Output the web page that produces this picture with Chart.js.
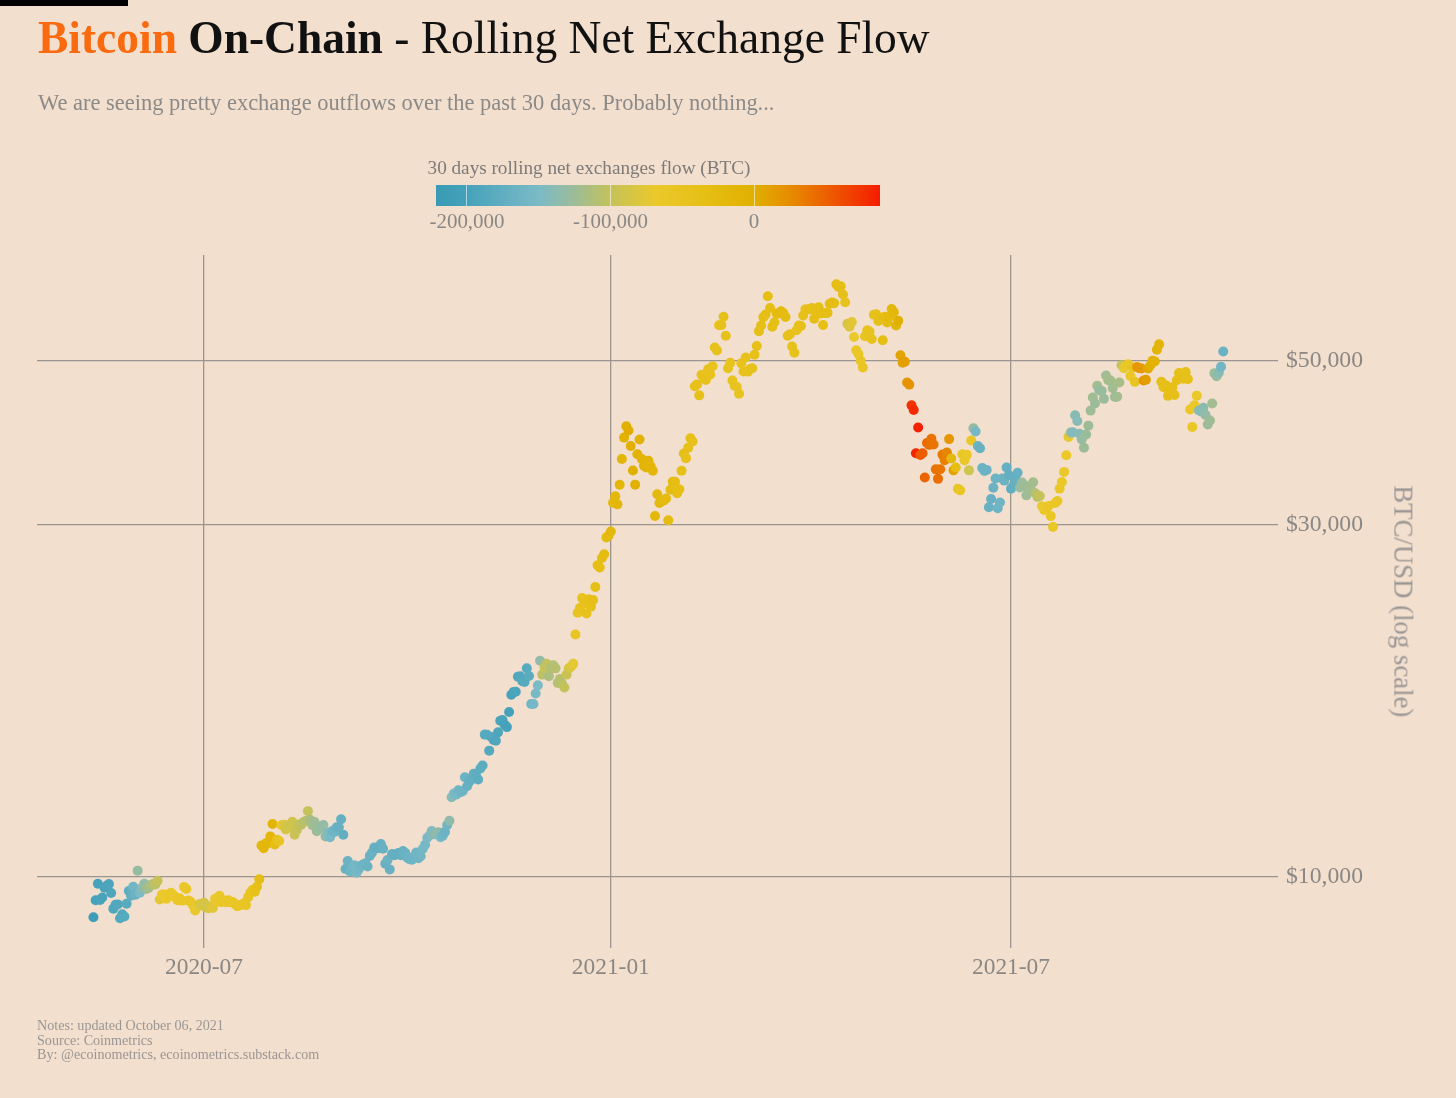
<!DOCTYPE html>
<html>
<head>
<meta charset="utf-8">
<script src="https://cdn.jsdelivr.net/npm/chart.js@4.4.1/dist/chart.umd.min.js"></script>
<style>
html,body{margin:0;padding:0;background:#f2dfce;}
body{width:1456px;height:1098px;position:relative;overflow:hidden;font-family:"Liberation Serif",serif;}
#chart{position:absolute;left:0;top:0;}
.t{position:absolute;white-space:nowrap;margin:0;z-index:2;}
#topbar{position:absolute;left:0;top:0;width:128px;height:6px;background:#000;}
#title .b1{color:#fa6a0e;font-weight:bold;}
#title .b2{color:#111;font-weight:bold;}
#title .r{color:#111;font-weight:normal;}
#subtitle{color:#8c8a88;}
#cbtitle{color:#7d7a78;}
.cblab{color:#8a8785;}
.foot{color:#9a9694;}
#ytitle{color:#9a9694;transform-origin:50% 50%;transform:rotate(90deg);}
#cbar{position:absolute;left:436px;top:185px;width:444px;height:21px;z-index:2;}
.cbtick{position:absolute;top:0;width:1px;height:21px;background:rgba(255,255,255,0.55);}
</style>
</head>
<body>
<div id="topbar"></div>
<div id="title" class="t"><span class="b1">Bitcoin</span><span class="b2"> On-Chain</span><span class="r"> - Rolling Net Exchange Flow</span></div>
<div id="subtitle" class="t">We are seeing pretty exchange outflows over the past 30 days. Probably nothing...</div>
<div id="cbtitle" class="t">30 days rolling net exchanges flow (BTC)</div>
<div id="cbar"></div>
<div id="ytitle" class="t">BTC/USD (log scale)</div>
<div id="foot1" class="t foot">Notes: updated October 06, 2021</div>
<div id="foot2" class="t foot">Source: Coinmetrics</div>
<div id="foot3" class="t foot">By: @ecoinometrics, ecoinometrics.substack.com</div>
<canvas id="chart" width="1456" height="1098"></canvas>
<script>
// ---------------- DATA ----------------
// Daily observations, first date below, one value per consecutive day.
const firstDate = '2020-05-12';

// BTC/USD daily price (USD)
const priceUSD = [
// 2020-05 (12..31)
8820,9300,9790,9310,9380,9670,9730,9780,9510,9060,9170,9180,8790,8900,8840,9200,9570,9430,9700,9460,
// 2020-06
10200,9520,9670,9790,9630,9670,9750,9780,9770,9880,9320,9470,9470,9340,9430,9520,9460,9390,9300,9360,9290,9690,9630,9290,9250,9160,9010,9120,9190,9140,
// 2020-07
9230,9090,9070,9130,9080,9340,9250,9430,9240,9290,9240,9300,9240,9250,9200,9130,9150,9170,9210,9160,9390,9530,9610,9550,9700,9930,11030,10940,11110,11110,11350,
// 2020-08
11800,11070,11230,11190,11750,11770,11600,11750,11680,11880,11410,11580,11780,11770,11870,11910,12280,11950,11750,11870,11530,11680,11650,11760,11350,11470,11320,11540,11510,11680,11680,
// 2020-09
11970,11410,10250,10510,10170,10280,10370,10130,10240,10360,10400,10440,10330,10680,10790,10960,10950,10940,11080,10920,10420,10540,10240,10740,10700,10730,10780,10700,10840,10780,
// 2020-10
10620,10570,10550,10670,10790,10600,10670,10920,11060,11300,11380,11540,11430,11430,11500,11320,11370,11510,11760,11920,12820,12970,12930,13110,13030,13070,13650,13270,13460,13560,13800,
// 2020-11
13740,13550,14030,14160,15590,15580,14830,15480,15330,15300,15700,16280,16320,16070,15960,16730,17650,17800,17820,18680,18700,18420,18370,19170,18720,17150,17150,17720,18180,19630,
// 2020-12
18800,19200,19450,18700,19150,19360,19170,18320,18550,18260,18060,18800,19170,19270,19440,21310,22800,23140,23870,23480,22750,23780,23240,23730,24710,26440,26250,27040,27370,28840,29000,
// 2021-01
29370,32130,32780,31970,33990,36820,39370,40800,40250,38350,35540,34000,37390,39150,36830,36070,35870,36630,36010,35510,30830,33000,32100,32280,32370,32570,30430,33470,34320,34300,33110,
// 2021-02
33520,35510,37470,36930,38140,39290,38900,46200,46480,44920,47910,47500,47110,48720,47940,49200,52150,51680,55890,55920,57410,54090,48890,49710,47060,46280,46110,45140,
// 2021-03
49630,48380,50540,48370,48760,48880,50970,52380,54880,55860,57330,57800,61180,59000,55640,56430,58000,57990,58370,58080,57350,54090,54340,52300,51300,55030,55840,55780,57630,58730,58740,
// 2021-04
58720,58970,57060,58210,59130,57990,55950,58090,58090,59770,60000,59860,63500,62970,63110,61530,60050,56150,55630,56470,53900,51700,51090,50050,49000,54020,55030,54820,53560,57750,
// 2021-05
57830,56630,57200,53330,57420,56400,57360,58800,58230,55860,56700,50900,49720,49880,46760,46450,43540,42910,37500,40630,37300,37500,34770,38710,38490,39240,38530,35660,34620,35680,37340,
// 2021-06
36690,37580,39190,36880,35550,35860,33560,33400,37390,36680,37310,35550,39020,40530,40140,38350,38090,35820,35480,35600,31680,32510,33680,34660,31590,32160,34650,34430,35870,35040,
// 2021-07
33570,33890,34670,35290,33690,34220,33860,32880,33820,33520,34260,33090,32730,32820,31780,31420,31530,31800,30820,29800,32110,32310,33580,34290,35380,37270,39460,40000,40020,42210,41460,
// 2021-08
39850,39150,38150,39750,40870,42830,44610,43790,46290,45600,45570,44430,47790,47100,47050,45940,44690,44740,46760,49340,48870,49280,49510,47710,48990,46850,49070,48900,48830,47050,47170,
// 2021-09
48850,49290,50030,49940,51770,52660,46860,46080,46370,44850,45160,46060,44960,47090,48160,47780,47310,48300,47250,42990,40690,43560,44880,42840,42710,43210,42240,41030,41520,43790,
// 2021-10 (1..5)
48140,47670,48200,49110,51510
];

// 30 days rolling net exchange flow, thousands of BTC
const netFlowKBTC = [
// 2020-05 (12..31)
-212,-200,-198,-197,-196,-195,-194,-193,-192,-190,-190,-188,-186,-185,-184,-182,-176,-172,-158,-165,
// 2020-06
-130,-150,-138,-132,-125,-120,-115,-110,-105,-98,-75,-70,-68,-68,-66,-65,-65,-64,-63,-62,-62,-62,-60,-60,-62,-64,-66,-72,-80,-84,
// 2020-07
-86,-88,-86,-82,-76,-70,-66,-64,-63,-62,-62,-61,-60,-60,-60,-59,-58,-58,-57,-56,-55,-52,-50,-45,-40,-32,-22,-18,-15,-14,-15,
// 2020-08
-10,-30,-45,-55,-70,-80,-85,-88,-90,-92,-95,-98,-100,-103,-105,-108,-100,-115,-120,-124,-126,-128,-130,-132,-138,-145,-152,-158,-162,-165,-168,
// 2020-09
-170,-172,-168,-165,-160,-158,-156,-155,-157,-160,-162,-163,-165,-166,-168,-170,-171,-172,-170,-168,-166,-165,-168,-170,-172,-173,-172,-170,-168,-166,
// 2020-10
-165,-164,-163,-162,-160,-160,-158,-156,-155,-152,-148,-145,-140,-136,-134,-150,-160,-165,-162,-135,-142,-150,-155,-158,-160,-162,-165,-168,-170,-172,-174,
// 2020-11
-176,-178,-178,-180,-182,-184,-185,-186,-188,-190,-192,-194,-196,-198,-200,-200,-198,-196,-194,-190,-188,-186,-184,-182,-180,-160,-155,-152,-150,-132,
// 2020-12
-105,-100,-102,-115,-112,-110,-108,-110,-108,-105,-100,-95,-90,-80,-72,-55,-50,-48,-46,-45,-44,-42,-40,-38,-36,-34,-32,-30,-28,-26,-25,
// 2021-01
-22,-20,-18,-16,-14,-12,-5,0,2,0,-3,-5,-6,-8,-10,-10,-12,-12,-14,-15,-18,-20,-22,-24,-25,-26,-28,-28,-30,-30,-32,
// 2021-02
-34,-36,-38,-40,-40,-42,-42,-40,-40,-42,-44,-44,-45,-45,-46,-46,-44,-44,-42,-40,-40,-42,-44,-46,-48,-48,-50,-50,
// 2021-03
-48,-46,-45,-45,-44,-44,-42,-40,-38,-36,-35,-35,-34,-34,-35,-36,-26,-25,-24,-25,-28,-40,-42,-44,-44,-44,-42,-42,-40,-40,-40,
// 2021-04
-38,-36,-35,-34,-34,-33,-32,-32,-32,-31,-30,-30,-30,-32,-34,-38,-45,-88,-80,-75,-70,-62,-60,-58,-56,-50,-48,-46,-44,-42,
// 2021-05
-40,-38,-36,-34,-30,-28,-25,-22,-18,-12,-3,8,10,12,18,20,75,80,82,85,55,52,48,45,42,40,38,40,42,38,35,
// 2021-06
32,28,18,-20,10,-30,-55,-58,-60,-62,-64,-92,-62,-130,-155,-165,-168,-165,-163,-165,-168,-168,-165,-163,-162,-160,-162,-165,-170,-172,
// 2021-07
-175,-172,-170,-168,-128,-126,-125,-124,-123,-122,-120,-108,-105,-100,-70,-66,-64,-62,-62,-60,-60,-62,-62,-64,-66,-68,-72,-128,-145,-140,-142,
// 2021-08
-140,-130,-125,-126,-125,-124,-123,-125,-122,-132,-128,-126,-122,-120,-120,-122,-124,-122,-118,-100,-72,-68,-62,-60,-55,-50,15,18,16,20,12,
// 2021-09
5,-2,-5,-8,-10,-12,-35,-36,-38,-38,-36,-36,-38,-36,-34,-36,-38,-40,-42,-62,-60,-64,-66,-140,-142,-138,-132,-125,-124,-122,
// 2021-10 (1..5)
-125,-130,-140,-158,-165
];

// Axis ticks
const xTickDates  = ['2020-07-01','2021-01-01','2021-07-01'];
const xTickLabels = ['2020-07','2021-01','2021-07'];
const yTickValues = [10000, 30000, 50000];
const yTickLabels = ['$10,000','$30,000','$50,000'];
// Colour bar
const cbTickValuesK = [-200, -100, 0];
const cbTickLabels  = ['-200,000','-100,000','0'];
const cbRangeK = [-221.6, 87.8];
const colorStops = [
  [-221.6,'#3a9ab4'],[-200,'#45a2ba'],[-150,'#7bbac7'],[-125,'#9cbc98'],[-100,'#c4c25a'],
  [-68,'#ebc92b'],[-35,'#e6bf16'],[0,'#e1b000'],[25,'#e68c00'],[50,'#ec6000'],[87.8,'#f51c00']
];

// ---------------- HELPERS ----------------
const DAY = 86400000;
const dayOf = s => Date.parse(s + 'T00:00:00Z') / DAY;
function hexToRgb(h){ return [parseInt(h.slice(1,3),16),parseInt(h.slice(3,5),16),parseInt(h.slice(5,7),16)]; }
function flowColor(v){
  if (v <= colorStops[0][0]) return colorStops[0][1];
  for (let i=1;i<colorStops.length;i++){
    if (v <= colorStops[i][0]){
      const [v0,c0]=colorStops[i-1],[v1,c1]=colorStops[i];
      const t=(v-v0)/(v1-v0), a=hexToRgb(c0), b=hexToRgb(c1);
      return 'rgb('+a.map((x,k)=>Math.round(x+(b[k]-x)*t)).join(',')+')';
    }
  }
  return colorStops[colorStops.length-1][1];
}

const FAMILY = '"Liberation Serif"';
const mctx = document.createElement('canvas').getContext('2d');
function widthAt(parts, size){
  let w=0;
  for (const [txt,weight] of parts){ mctx.font = weight+' '+size+'px '+FAMILY; w += mctx.measureText(txt).width; }
  return w;
}
function fitSize(parts, target){ return 100*target/widthAt(parts,100); }
function baselineOffset(size){
  mctx.font = 'normal '+size+'px '+FAMILY;
  const m = mctx.measureText('Hg');
  const a = m.fontBoundingBoxAscent, d = m.fontBoundingBoxDescent;
  return (size-(a+d))/2 + a;
}
function place(el, parts, size, x, baseline, align){
  el.style.fontFamily = FAMILY;
  el.style.fontSize = size+'px';
  el.style.lineHeight = size+'px';
  el.style.top = (baseline - baselineOffset(size))+'px';
  const w = widthAt(parts,size);
  el.style.left = (align==='center' ? x-w/2 : x)+'px';
  return w;
}

// ---------------- TEXT LAYOUT ----------------
const titleParts = [['Bitcoin','bold'],[' On-Chain','bold'],[' - Rolling Net Exchange Flow','normal']];
place(document.getElementById('title'), titleParts, fitSize(titleParts, 892), 38, 53, 'left');

const subParts = [[document.getElementById('subtitle').textContent,'normal']];
place(document.getElementById('subtitle'), subParts, fitSize(subParts, 737), 38, 111, 'left');

const cbtParts = [[document.getElementById('cbtitle').textContent,'normal']];
place(document.getElementById('cbtitle'), cbtParts, fitSize(cbtParts, 323), 589, 174, 'center');

const footIds = ['foot1','foot2','foot3'], footBase = [1030.5, 1044.8, 1059];
const footSize = fitSize([[document.getElementById('foot1').textContent,'normal']], 187);
footIds.forEach((id,i)=>{ const el=document.getElementById(id); place(el, [[el.textContent,'normal']], footSize, 37, footBase[i], 'left'); });

// vertical axis title (rotated 90deg clockwise, baseline on the left)
(function(){
  const el = document.getElementById('ytitle');
  const parts = [[el.textContent,'normal']];
  const size = fitSize(parts, 232);
  const w = widthAt(parts,size);
  el.style.fontFamily = FAMILY; el.style.fontSize = size+'px'; el.style.lineHeight = size+'px';
  const b = baselineOffset(size);
  const cx = 1394 + b - size/2, cy = 601;
  el.style.left = (cx - w/2)+'px';
  el.style.top = (cy - size/2)+'px';
})();

// colour bar
(function(){
  const bar = document.getElementById('cbar');
  const span = cbRangeK[1]-cbRangeK[0];
  const stops = colorStops.map(([v,c])=> c+' '+((v-cbRangeK[0])/span*100).toFixed(2)+'%').join(',');
  bar.style.background = 'linear-gradient(to right,'+stops+')';
  const barLeft = 436, barW = 444;
  const labSize = fitSize([[cbTickLabels[0],'normal']], 75);
  cbTickValuesK.forEach((v,i)=>{
    const px = (v-cbRangeK[0])/span*barW;
    const tk = document.createElement('div'); tk.className='cbtick'; tk.style.left=(px-0.5)+'px'; bar.appendChild(tk);
    const lab = document.createElement('div'); lab.className='t cblab'; lab.textContent=cbTickLabels[i];
    document.body.appendChild(lab);
    place(lab, [[cbTickLabels[i],'normal']], labSize, barLeft+px, 228, 'center');
  });
})();

// ---------------- CHART ----------------
const start = dayOf(firstDate);
const points = priceUSD.map((p,i)=>({x:start+i, y:p}));
const colors = netFlowKBTC.map(flowColor);

const xTickVals = xTickDates.map(dayOf);
const pxPerDay = (1011-204)/365;
const xMin = dayOf('2020-07-01') - (204-37)/pxPerDay;
const xMax = dayOf('2021-07-01') + (1278-1011)/pxPerDay;

const xFont = fitSize([[xTickLabels[0],'normal']], 78);
const yFont = fitSize([[yTickLabels[2],'normal']], 77);
const gridColor = '#9b9591';
const tickColor = '#8a8785';

new Chart(document.getElementById('chart'), {
  type: 'scatter',
  data: { datasets: [{
    data: points,
    pointRadius: 5,
    pointHoverRadius: 5,
    pointBorderWidth: 0,
    pointBackgroundColor: colors,
    borderColor: 'rgba(0,0,0,0)',
    showLine: false
  }]},
  options: {
    responsive: false,
    animation: false,
    events: [],
    layout: { padding: { left: 37, top: 255, right: 0, bottom: 110 } },
    plugins: { legend: { display: false }, tooltip: { enabled: false } },
    scales: {
      x: {
        type: 'linear', position: 'bottom', min: xMin, max: xMax, bounds: 'data',
        grid: { color: gridColor, lineWidth: 1.3, drawTicks: false },
        border: { display: false },
        ticks: { padding: 6, autoSkip: false, maxRotation: 0, color: tickColor,
                 font: { family: FAMILY, size: xFont },
                 callback: (v,i) => xTickLabels[i] },
        afterBuildTicks: s => { s.ticks = xTickVals.map(v=>({value:v})); },
        afterFit: s => { s.height = 40; }
      },
      y: {
        type: 'logarithmic', position: 'right', min: 8013, max: 69590, bounds: 'data',
        grid: { color: gridColor, lineWidth: 1.3, drawTicks: false },
        border: { display: false },
        ticks: { padding: 8, autoSkip: false, color: tickColor,
                 font: { family: FAMILY, size: yFont },
                 callback: (v,i) => yTickLabels[i] },
        afterBuildTicks: s => { s.ticks = yTickValues.map(v=>({value:v})); },
        afterFit: s => { s.width = 178; }
      }
    }
  }
});
</script>
</body>
</html>
